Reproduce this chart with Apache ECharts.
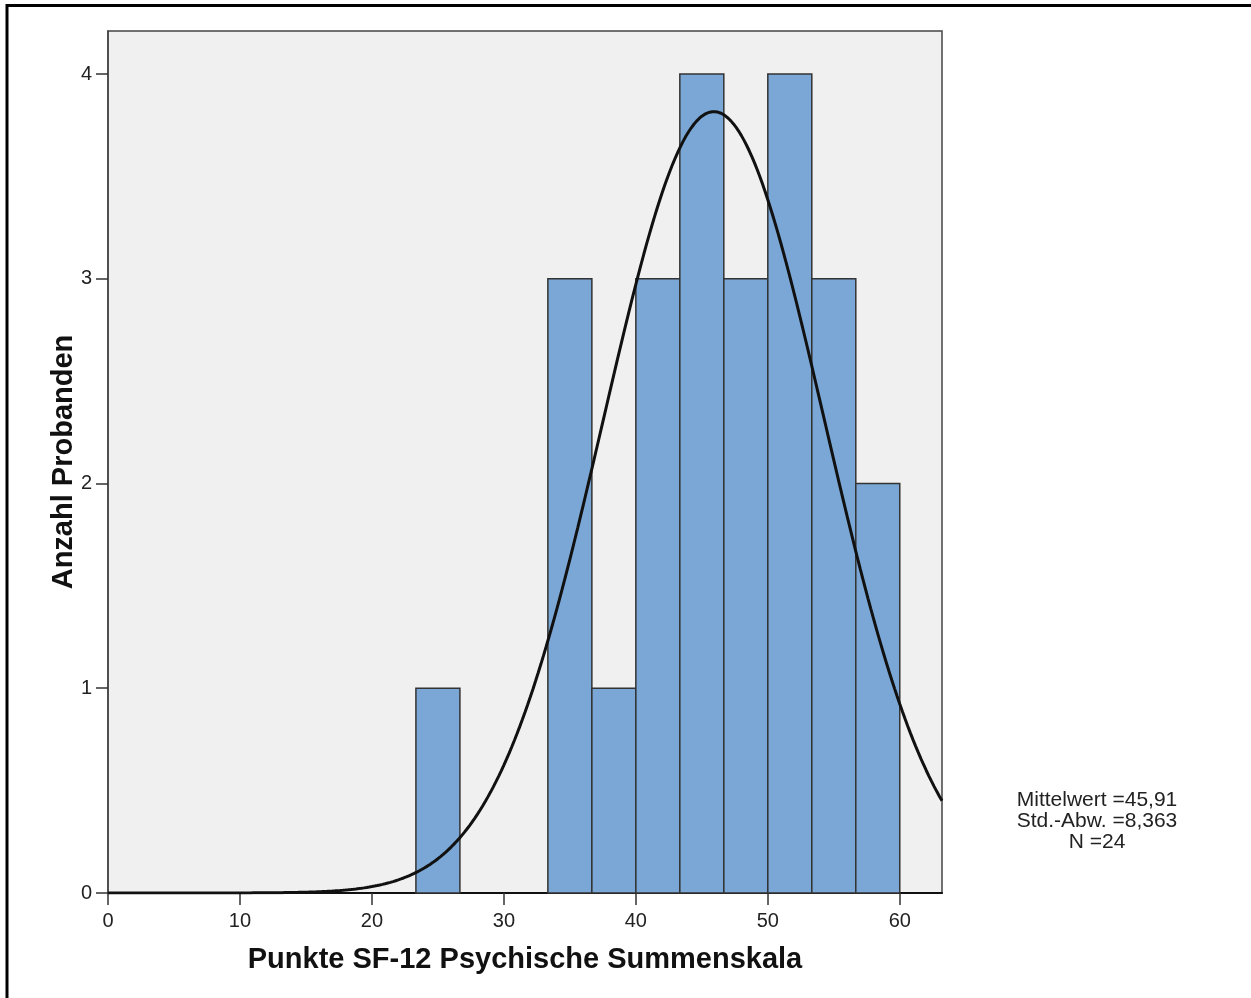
<!DOCTYPE html>
<html>
<head>
<meta charset="utf-8">
<script src="https://cdn.jsdelivr.net/npm/echarts@6/dist/echarts.min.js"></script>
<style>
html,body{margin:0;padding:0;background:#fff;}
#chart{width:1251px;height:998px;}
</style>
</head>
<body>
<div id="chart"></div>
<script>
// Histogram bins (bin width 10/3)
const binStart = [23.333, 33.333, 36.667, 40.0, 43.333, 46.667, 50.0, 53.333, 56.667];
const binEnd   = [26.667, 36.667, 40.0, 43.333, 46.667, 50.0, 53.333, 56.667, 60.0];
const counts   = [1, 3, 1, 3, 4, 3, 4, 3, 2];
// Statistics printed on the chart (define the fitted normal curve)
const mean = 45.91;
const stdDev = 8.363;
const nTotal = 24;
const binWidth = 10 / 3;
const xTicks = [0, 10, 20, 30, 40, 50, 60];
const yTicks = [0, 1, 2, 3, 4];
const statLines = ['Mittelwert =45,91', 'Std.-Abw. =8,363', 'N =24'];
const xTitle = 'Punkte SF-12 Psychische Summenskala';
const yTitle = 'Anzahl Probanden';

const xMax = 63.2;
const barData = binStart.map((s, i) => [s, binEnd[i], counts[i]]);
const curve = [];
for (let i = 0; i <= 316; i++) {
  const x = i * 0.2;
  const z = (x - mean) / stdDev;
  curve.push([x, nTotal * binWidth * Math.exp(-0.5 * z * z) / (stdDev * Math.sqrt(2 * Math.PI))]);
}

const chart = echarts.init(document.getElementById('chart'), null, {renderer: 'canvas'});
const font = '"Liberation Sans", Arial, sans-serif';
chart.setOption({
  animation: false,
  backgroundColor: '#ffffff',
  grid: {left: 108, top: 31, right: 309, bottom: 105, show: true,
         backgroundColor: '#f0f0f0', borderColor: '#444', borderWidth: 1.5},
  xAxis: {
    type: 'value', min: 0, max: xMax, interval: 10,
    name: xTitle, nameLocation: 'middle', nameGap: 52, nameMoveOverlap: false,
    nameTextStyle: {fontFamily: font, fontSize: 29, fontWeight: 'bold', color: '#111'},
    axisLine: {show: true, onZero: false, lineStyle: {color: '#111', width: 2}},
    axisTick: {show: true, inside: false, length: 12, customValues: xTicks, lineStyle: {color: '#333', width: 1.5}},
    axisLabel: {customValues: xTicks, fontFamily: font, fontSize: 20, color: '#222', margin: 18},
    splitLine: {show: false}
  },
  yAxis: {
    type: 'value', min: 0, max: 4.21, interval: 1,
    name: yTitle, nameLocation: 'middle', nameGap: 30, nameMoveOverlap: false,
    nameTextStyle: {fontFamily: font, fontSize: 29, fontWeight: 'bold', color: '#111'},
    axisLine: {show: true, lineStyle: {color: '#444', width: 1.5}},
    axisTick: {show: true, inside: false, length: 12, customValues: yTicks, lineStyle: {color: '#333', width: 1.5}},
    axisLabel: {customValues: yTicks, fontFamily: font, fontSize: 20, color: '#222', margin: 16},
    splitLine: {show: false}
  },
  series: [
    {
      type: 'custom',
      data: barData,
      encode: {x: [0, 1], y: 2},
      renderItem: function (params, api) {
        const p0 = api.coord([api.value(0), api.value(2)]);
        const p1 = api.coord([api.value(1), 0]);
        return {
          type: 'rect',
          shape: {x: p0[0], y: p0[1], width: p1[0] - p0[0], height: p1[1] - p0[1]},
          style: {fill: '#7aa7d6', stroke: '#333', lineWidth: 1.5}
        };
      },
      z: 2
    },
    {
      type: 'line',
      data: curve,
      showSymbol: false,
      symbol: 'none',
      lineStyle: {color: '#111', width: 3},
      clip: true,
      z: 3
    }
  ],
  graphic: [
    {type: 'text', x: 1097, y: 790,
     style: {text: statLines.join('\n'), font: '21px ' + font, fill: '#222',
             textAlign: 'center', lineHeight: 21}},
    {type: 'rect', shape: {x: 7, y: 5.5, width: 1400, height: 1200},
     style: {fill: 'none', stroke: '#000', lineWidth: 3}, z: 10}
  ]
});
</script>
</body>
</html>
